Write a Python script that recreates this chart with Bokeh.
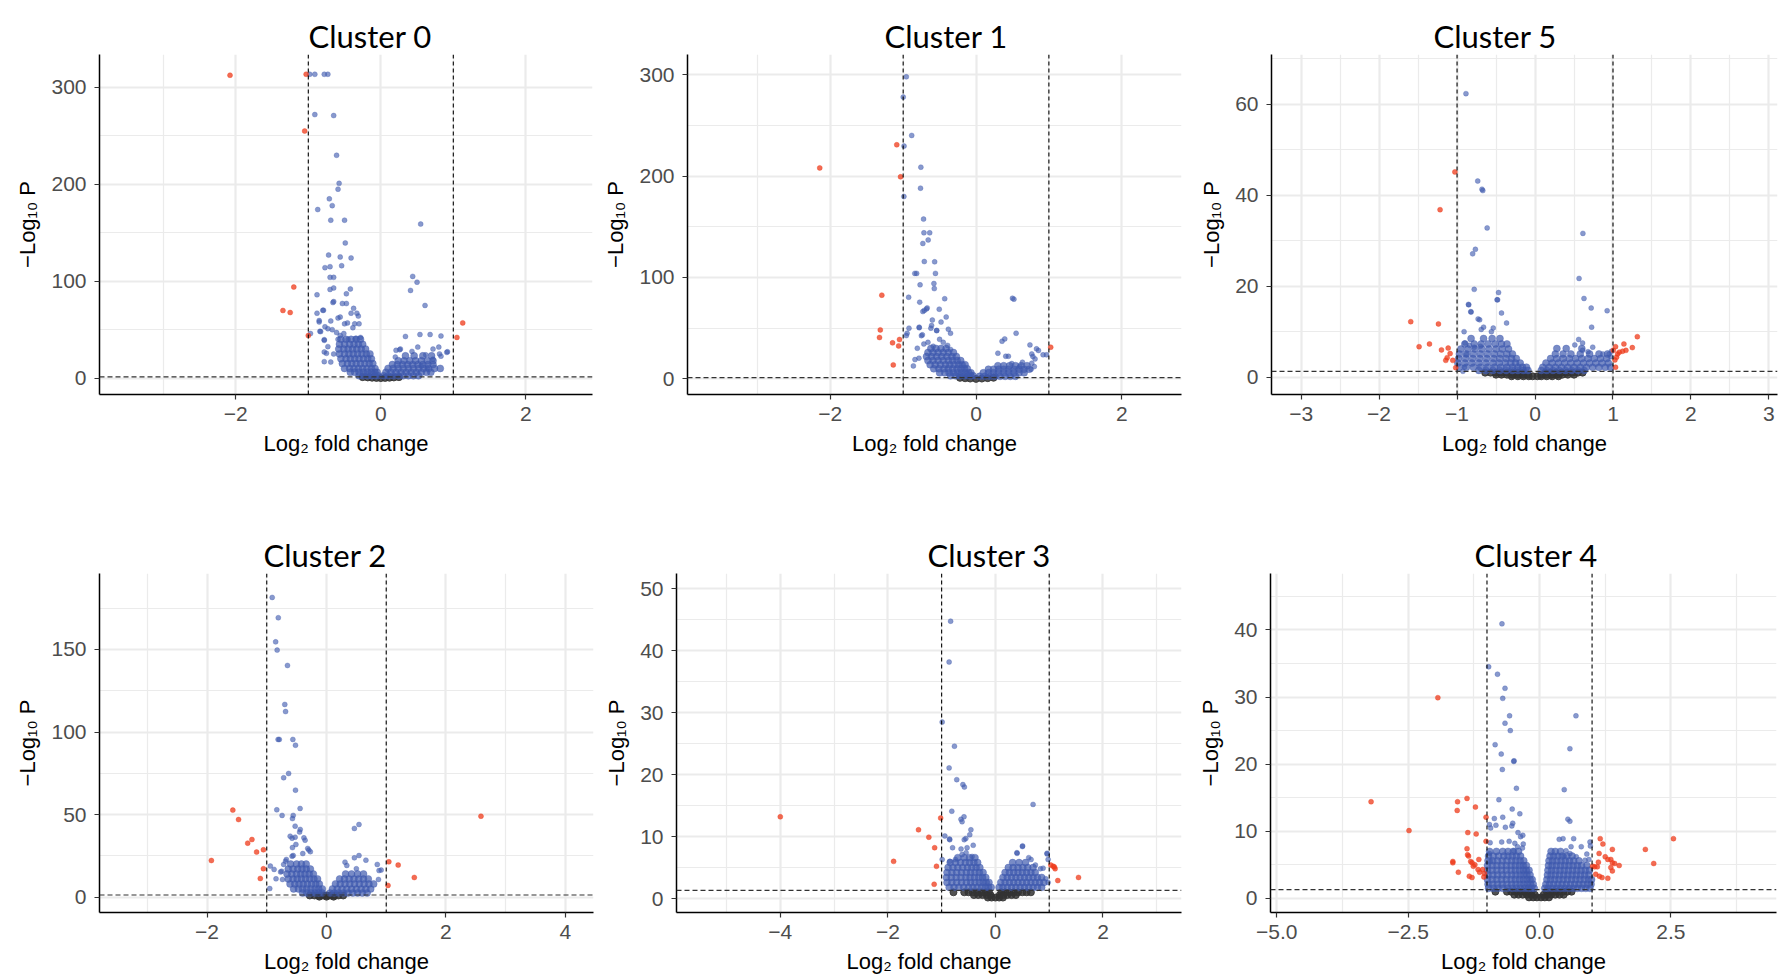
from bokeh.plotting import figure
from bokeh.layouts import column, row
from bokeh.models import Span, FixedTicker, Title, Range1d, LinearAxis
from bokeh.embed import file_html
from bokeh.resources import INLINE

# ---------------- DATA ----------------
titles = ["Cluster 0", "Cluster 1", "Cluster 5", "Cluster 2", "Cluster 3", "Cluster 4"]

# Cluster 0
c0_red = [(-2.08, 312.6), (-1.03, 313.6), (-1.05, 255), (-1.2, 94), (-1.35, 69.8), (-1.25, 67.7),
          (-1.0, 43.9), (1.13, 57), (1.05, 42)]
c0_blue = [(-0.98, 313.6), (-0.91, 313.6), (-0.78, 313.6), (-0.73, 313.6), (-0.91, 272), (-0.65, 271),
           (-0.61, 230), (-0.575, 201), (-0.59, 195), (-0.71, 185), (-0.67, 178), (-0.87, 174), (-0.69, 163),
           (-0.5, 163), (0.55, 159), (-0.49, 139.5), (-0.72, 127), (-0.56, 125), (-0.41, 124), (-0.77, 114),
           (-0.7, 115), (-0.54, 116), (-0.7, 104), (-0.65, 104), (0.44, 105), (0.5, 99), (-0.7, 91.5),
           (-0.65, 93), (-0.42, 92), (-0.88, 86), (-0.475, 87), (0.41, 90.5), (-0.66, 78), (-0.65, 79),
           (-0.53, 77), (-0.475, 77), (0.61, 75), (-0.79, 70), (-0.88, 67), (-0.375, 72), (-0.33, 67),
           (-0.31, 64), (-0.59, 62), (-0.56, 63), (-0.41, 67), (-0.85, 58), (-0.69, 59), (-0.46, 57),
           (-0.5, 56), (-0.36, 56), (-0.3, 56), (-0.385, 52), (-0.77, 53), (-0.73, 51), (-0.83, 48),
           (-0.67, 50), (-0.97, 46), (-0.61, 47), (-0.51, 46), (-0.56, 44), (0.34, 43), (0.54, 45),
           (0.68, 45), (0.83, 43.5), (-0.78, 39), (-0.59, 40), (-0.45, 40), (-0.35, 41), (-0.28, 42),
           (0.51, 32), (0.72, 30), (0.91, 26.6), (0.81, 25), (0.62, 24), (0.21, 28.7), (0.27, 30),
           (0.43, 27.6), (-0.8, 70), (-0.85, 59.4), (-0.84, 48.3), (-0.78, 39.7), (-0.73, 32.5),
           (-0.78, 27), (-0.75, 25.6), (-0.78, 17), (-0.69, 16.6), (-0.65, 24.9), (0.92, 27.2),
           (0.83, 22.7), (0.72, 19.6), (0.8, 32), (0.26, 29.3), (0.2, 21.7), (0.64, 10.3), (0.56, 12.4)]
c0_dense = [
    (40, [-0.55, -0.48, -0.41, -0.34, -0.28]),
    (35, [-0.57, -0.50, -0.43, -0.37, -0.31, -0.25]),
    (30, [-0.58, -0.51, -0.45, -0.39, -0.33, -0.27, -0.21]),
    (25, [-0.57, -0.50, -0.44, -0.38, -0.32, -0.26, -0.20, -0.15]),
    (20, [-0.55, -0.48, -0.42, -0.36, -0.30, -0.24, -0.18, -0.13]),
    (15, [-0.53, -0.46, -0.40, -0.34, -0.28, -0.22, -0.16, -0.11]),
    (10, [-0.50, -0.43, -0.37, -0.31, -0.25, -0.19, -0.13, -0.08]),
    (6, [-0.42, -0.36, -0.30, -0.24, -0.18, -0.13, -0.08, -0.05]),
    (2.5, [-0.30, -0.24, -0.18, -0.13, -0.08, -0.04]),
    (2.5, [0.04, 0.10, 0.17, 0.24, 0.31, 0.38, 0.45, 0.52]),
    (6, [0.07, 0.14, 0.21, 0.28, 0.35, 0.42, 0.49, 0.56, 0.63, 0.69]),
    (10, [0.10, 0.17, 0.24, 0.31, 0.38, 0.45, 0.52, 0.59, 0.66, 0.74, 0.82]),
    (14, [0.16, 0.23, 0.30, 0.37, 0.44, 0.51, 0.58, 0.65, 0.72]),
    (18, [0.24, 0.32, 0.40, 0.48, 0.56, 0.64, 0.72]),
    (23, [0.34, 0.46, 0.58, 0.70]),
]
c0_grey = [(-0.25, 1.0), (-0.18, 0.7), (-0.12, 0.4), (-0.06, 0.2), (0.0, 0.0), (0.06, 0.2),
           (0.12, 0.4), (0.18, 0.7), (0.25, 1.0)]

# Cluster 1
c1_red = [(-2.145, 208), (-1.088, 230.8), (-1.036, 199.2), (-1.293, 82.5), (-1.314, 48.3), (-1.325, 40.8),
          (-1.146, 35.5), (-1.05, 38.8), (-1.062, 32.5), (-1.136, 13.8), (1.025, 31.2)]
c1_blue = [(-0.957, 297.8), (-0.999, 277.8), (-0.883, 240), (-0.988, 229.5), (-0.757, 208.7), (-0.762, 188),
           (-0.99, 179.8), (-0.72, 157.5), (-0.715, 144), (-0.636, 144), (-0.657, 137), (-0.73, 133.5),
           (-0.71, 115.7), (-0.568, 115.4), (-0.84, 104), (-0.815, 104), (-0.557, 104), (-0.768, 92.7),
           (-0.578, 94), (-0.573, 89), (-0.925, 80.5), (-0.43, 79), (0.5, 79.5), (0.52, 78.6), (-0.773, 75.6),
           (-0.68, 69), (-0.71, 67.5), (-0.67, 70), (-0.505, 68.7), (-0.73, 66.4), (-0.41, 61), (-0.48, 56),
           (-0.6, 58), (-0.61, 52.6), (-0.62, 50), (-0.92, 50), (-0.78, 51), (-0.38, 49), (-0.35, 45),
           (0.55, 45), (-0.54, 47.7), (-0.736, 43.4), (-0.946, 45), (-0.957, 42.7), (0.394, 39.4),
           (0.357, 37.1), (0.74, 33.5), (0.3, 25.3), (0.83, 29.6), (0.857, 28), (0.92, 23.7), (0.967, 23.7),
           (0.78, 22), (0.444, 22.3), (0.408, 22.3), (0.49, 15.1), (0.765, 24.6), (0.81, 19.7), (0.765, 15.4),
           (0.8, 12.1), (0.756, 9.5), (0.637, 16.4), (0.6, 12.1), (-0.86, 12.8), (-0.838, 19), (-0.783, 20.4),
           (-0.806, 30.2), (-0.78, 50.4), (-0.75, 42.6), (-0.716, 34.4), (-0.588, 32.1), (-0.54, 47.6),
           (-0.45, 36), (-0.39, 33), (-0.5, 39), (-0.66, 36), (-0.35, 29)]
c1_dense = [
    (30, [-0.62, -0.55, -0.48, -0.41]),
    (26, [-0.66, -0.59, -0.52, -0.45, -0.38, -0.31]),
    (22, [-0.68, -0.61, -0.54, -0.47, -0.40, -0.33, -0.27]),
    (18, [-0.66, -0.59, -0.52, -0.45, -0.38, -0.32, -0.26, -0.21]),
    (14, [-0.63, -0.56, -0.49, -0.42, -0.36, -0.30, -0.24, -0.19, -0.15]),
    (10, [-0.58, -0.51, -0.44, -0.38, -0.32, -0.26, -0.21, -0.16, -0.12]),
    (6, [-0.50, -0.43, -0.37, -0.31, -0.25, -0.20, -0.15, -0.10, -0.07]),
    (3, [-0.35, -0.28, -0.22, -0.16, -0.11, -0.07, -0.04]),
    (2.5, [0.05, 0.12, 0.19, 0.26, 0.33, 0.40, 0.47, 0.54]),
    (6, [0.10, 0.17, 0.24, 0.31, 0.38, 0.45, 0.52, 0.59, 0.66]),
    (9.5, [0.17, 0.24, 0.31, 0.38, 0.45, 0.52, 0.59, 0.66, 0.73]),
    (13, [0.30, 0.38, 0.46, 0.54, 0.62, 0.70]),
]
c1_grey = [(-0.22, 1.0), (-0.15, 0.6), (-0.08, 0.3), (0.0, 0.0), (0.08, 0.3), (0.16, 0.7), (0.24, 1.1)]

# Cluster 5
c5_red = [(-1.028, 45.1), (-1.218, 36.8), (-1.594, 12.2), (-1.239, 11.7), (-1.487, 6.7), (-1.354, 7.3),
          (-1.2, 6.0), (-1.114, 6.4), (-1.089, 5.2), (-1.127, 4.3), (-1.145, 3.7), (-1.055, 3.7),
          (-1.017, 2.1), (1.033, 6.7), (1.14, 7.3), (1.312, 8.9), (1.248, 6.5), (1.166, 5.9), (1.123, 5.7),
          (1.081, 5.5), (1.046, 4.4), (1.025, 3.8), (1.033, 2.2), (1.004, 5.9), (1.059, 5.1)]
c5_blue = [(-0.886, 62.3), (-0.735, 43.1), (-0.68, 41.3), (-0.67, 41), (-0.614, 32.8), (-0.765, 28.1),
           (-0.8, 27.1), (-0.78, 19.3), (-0.468, 18.6), (-0.487, 17), (-0.85, 15.9), (-0.82, 14.3),
           (-0.43, 14.1), (-0.73, 12.8), (-0.71, 12.6), (-0.365, 11.9), (-0.66, 11), (-0.69, 10.5),
           (-0.536, 10.8), (-0.56, 10), (-0.91, 10), (0.614, 31.6), (0.565, 21.7), (0.628, 17.3),
           (0.72, 15.2), (0.925, 14.6), (0.726, 11), (0.56, 8.3), (0.61, 7.5), (0.51, 7.1), (0.74, 6.6),
           (0.61, 5.9), (0.68, 5.6), (0.87, 5.1), (0.95, 5.1), (0.98, 5.7), (0.97, 4.5), (-0.9, 7.5),
           (-0.84, 7), (-0.78, 6.6), (-0.7, 6.8), (-0.88, 5), (-0.925, 1.3), (-0.906, 2.2), (-0.854, 16),
           (-0.824, 14.4), (-0.48, 17)]
c5_dense = [
    (8.5, [-0.82, -0.66, -0.55, -0.45]),
    (7.3, [-0.90, -0.78, -0.69, -0.60, -0.51, -0.43, -0.36]),
    (6.2, [-0.95, -0.86, -0.77, -0.68, -0.59, -0.50, -0.42, -0.34]),
    (5.1, [-0.97, -0.88, -0.79, -0.70, -0.61, -0.52, -0.44, -0.36, -0.29]),
    (4.1, [-0.98, -0.89, -0.80, -0.71, -0.62, -0.53, -0.45, -0.37, -0.30, -0.24]),
    (3.1, [-0.99, -0.90, -0.81, -0.72, -0.63, -0.54, -0.46, -0.38, -0.31, -0.25, -0.19]),
    (2.2, [-0.97, -0.88, -0.79, -0.70, -0.61, -0.52, -0.44, -0.36, -0.29, -0.22, -0.16, -0.11]),
    (1.5, [-0.72, -0.63, -0.54, -0.45, -0.37, -0.29, -0.22, -0.15, -0.09]),
    (1.5, [0.08, 0.15, 0.23, 0.31, 0.39, 0.47, 0.55, 0.63]),
    (2.2, [0.10, 0.18, 0.26, 0.34, 0.42, 0.50, 0.58, 0.66, 0.74, 0.82, 0.90, 0.97]),
    (3.1, [0.14, 0.22, 0.30, 0.38, 0.46, 0.54, 0.62, 0.70, 0.78, 0.86, 0.94]),
    (4.1, [0.20, 0.28, 0.36, 0.44, 0.52, 0.60, 0.68, 0.76, 0.84, 0.92]),
    (5.1, [0.26, 0.36, 0.46, 0.58, 0.70, 0.82, 0.93]),
    (6.3, [0.28, 0.40, 0.60]),
]
c5_grey = [
    (1.0, [-0.64, -0.57, -0.50, -0.43, -0.36, -0.29, -0.22, -0.15, 0.13, 0.20, 0.27, 0.34, 0.41, 0.48, 0.55, 0.61]),
    (0.55, [-0.50, -0.43, -0.36, -0.29, -0.22, -0.15, -0.09, 0.08, 0.14, 0.21, 0.28, 0.35, 0.42, 0.50]),
    (0.2, [-0.30, -0.22, -0.15, -0.08, -0.03, 0.03, 0.08, 0.15, 0.22, 0.30]),
]

# Cluster 2
c2_red = [(-1.927, 22.2), (-1.568, 52.7), (-1.472, 47), (-1.319, 32.7), (-1.248, 34.9), (-1.17, 27.3),
          (-1.056, 28.7), (-1.056, 17.2), (-1.108, 11.3), (1.044, 21.4), (1.2, 19.4), (1.47, 11.9),
          (1.03, 7.1), (2.586, 49)]
c2_blue = [(-0.909, 181.5), (-0.807, 169.2), (-0.851, 154.6), (-0.826, 149.6), (-0.653, 140.3), (-0.698, 116.7),
           (-0.685, 112.4), (-0.81, 95.5), (-0.79, 95.5), (-0.563, 95.5), (-0.519, 92), (-0.634, 74.9),
           (-0.717, 72.3), (-0.519, 64.8), (-0.832, 52.9), (-0.442, 53.7), (-0.743, 49.5), (-0.557, 49.5),
           (-0.57, 47.6), (0.544, 44), (0.467, 41.6), (-0.525, 43), (-0.44, 41), (-0.45, 39.4), (-0.608, 36.9),
           (-0.525, 36.3), (-0.378, 35.9), (-0.358, 34.5), (-0.57, 30), (-0.512, 31.9), (-0.576, 35.7),
           (-0.314, 29.5), (-0.27, 27.5), (-0.397, 26.4), (-0.295, 28.5), (-0.557, 25.2), (-0.576, 24.8),
           (-0.672, 22.8), (-0.685, 21.8), (0.544, 25.2), (0.467, 23.8), (0.66, 22.4), (0.85, 19.8),
           (0.915, 16.4), (0.88, 16.1), (0.87, 10.7), (0.31, 21.2), (0.5, 17.2), (0.34, 19.2), (-0.94, 18.8),
           (-0.877, 16.8), (-0.95, 5.2), (-0.717, 19.8), (-0.749, 15.7), (-0.845, 11.1), (-0.736, 10.7),
           (-0.768, 15.3)]
c2_dense = [
    (20, [-0.60, -0.50, -0.42, -0.34]),
    (17, [-0.64, -0.56, -0.48, -0.41, -0.34, -0.27]),
    (14, [-0.66, -0.58, -0.50, -0.43, -0.36, -0.29, -0.22]),
    (11, [-0.64, -0.56, -0.49, -0.42, -0.35, -0.28, -0.21, -0.15]),
    (8, [-0.61, -0.53, -0.46, -0.39, -0.32, -0.25, -0.18, -0.12]),
    (5, [-0.55, -0.47, -0.40, -0.33, -0.26, -0.19, -0.13, -0.07]),
    (2.5, [-0.40, -0.33, -0.26, -0.19, -0.13, -0.07]),
    (2.5, [0.06, 0.13, 0.20, 0.28, 0.36, 0.44, 0.52, 0.60, 0.68]),
    (5, [0.10, 0.18, 0.26, 0.34, 0.42, 0.50, 0.58, 0.66, 0.74]),
    (8, [0.15, 0.23, 0.31, 0.39, 0.47, 0.55, 0.63, 0.71, 0.79]),
    (11, [0.22, 0.30, 0.38, 0.46, 0.54, 0.62, 0.70]),
    (14, [0.32, 0.42, 0.52, 0.62]),
]
c2_grey = [(-0.28, 1.0), (-0.2, 1.0), (-0.13, 1.0), (-0.06, 1.0), (0.0, 1.0), (0.06, 1.0), (0.13, 1.0),
           (0.2, 1.0), (0.28, 1.0), (-0.12, 0.3), (0.0, 0.3), (0.12, 0.3)]

# Cluster 3
c3_red = [(-4.0, 13.2), (-1.893, 6.0), (-1.43, 11.1), (-1.238, 9.9), (-1.13, 8.2), (-1.018, 13), (-1.096, 5.2),
          (-1.139, 2.3), (1.03, 5.4), (1.075, 5.2), (1.11, 4.8), (1.096, 5.1), (1.16, 2.9), (1.545, 3.4)]
c3_blue = [(-0.833, 44.8), (-0.861, 38.2), (-0.99, 28.5), (-0.762, 24.6), (-0.861, 21.1), (-0.719, 19.2),
           (-0.605, 18.4), (-0.577, 18), (0.7, 15.2), (-0.811, 14.1), (-0.584, 13.2), (-0.64, 12.8),
           (-0.62, 12.4), (-0.456, 11.1), (-0.477, 10.3), (-0.94, 10.1), (-0.854, 9.6), (-0.58, 9.5),
           (-0.55, 9.7), (-0.413, 8.6), (-0.797, 8.2), (0.505, 8.5), (0.4, 7.4), (0.96, 7.3), (0.98, 6.3),
           (-0.99, 6.3), (-0.849, 9.5), (-0.639, 8.0), (-0.527, 8.2), (-0.62, 7.1), (-0.545, 7.4),
           (-0.433, 6.8), (-0.744, 6.3), (-0.849, 6.0), (0.403, 7.3), (0.502, 8.4), (0.62, 6.6),
           (0.663, 6.3), (0.744, 5.4), (0.837, 4.8), (0.887, 4.9), (0.961, 7.2), (0.936, 3.2), (0.98, 2.6)]
c3_dense = [
    (6.6, [-0.70, -0.58, -0.48, -0.38]),
    (5.8, [-0.84, -0.74, -0.65, -0.56, -0.48, -0.40, -0.33]),
    (5.0, [-0.88, -0.79, -0.70, -0.61, -0.52, -0.44, -0.36, -0.29]),
    (4.2, [-0.90, -0.81, -0.72, -0.63, -0.54, -0.46, -0.38, -0.30, -0.23]),
    (3.4, [-0.91, -0.82, -0.73, -0.64, -0.55, -0.47, -0.39, -0.31, -0.24, -0.18]),
    (2.6, [-0.90, -0.81, -0.72, -0.63, -0.54, -0.46, -0.38, -0.30, -0.23, -0.17, -0.12]),
    (1.8, [-0.86, -0.77, -0.68, -0.59, -0.50, -0.42, -0.34, -0.26, -0.19, -0.13, -0.08]),
    (1.8, [0.07, 0.14, 0.22, 0.30, 0.38, 0.46, 0.54, 0.62, 0.70, 0.78, 0.86]),
    (2.6, [0.10, 0.18, 0.26, 0.34, 0.42, 0.50, 0.58, 0.66, 0.74, 0.82, 0.90]),
    (3.4, [0.14, 0.22, 0.30, 0.38, 0.46, 0.54, 0.62, 0.70, 0.78, 0.86]),
    (4.2, [0.18, 0.26, 0.34, 0.42, 0.50, 0.58, 0.66, 0.74]),
    (5.0, [0.24, 0.33, 0.42, 0.51, 0.60, 0.70]),
    (5.8, [0.32, 0.44, 0.56]),
]
c3_grey = [
    (1.0, [-0.78, -0.58, -0.50, -0.42, -0.34, -0.26, -0.18, -0.12, 0.11, 0.18, 0.26, 0.34, 0.42, 0.50, 0.58, 0.66]),
    (0.55, [-0.40, -0.32, -0.24, -0.16, -0.09, 0.08, 0.15, 0.22, 0.30, 0.38]),
    (0.15, [-0.14, -0.07, 0.0, 0.07, 0.14]),
]

# Cluster 4
c4_red = [(-3.206, 14.4), (-2.484, 10.1), (-1.935, 29.9), (-1.56, 14.4), (-1.567, 13.1), (-1.38, 14.9),
          (-1.22, 13.6), (-1.365, 9.8), (-1.206, 9.6), (-1.018, 12.1), (-1.018, 8.5), (-1.38, 7.4),
          (-1.37, 6.5), (-1.35, 6.3), (-1.65, 5.5), (-1.65, 5.3), (-1.31, 5.5), (-1.285, 5.3), (-1.26, 4.8),
          (-1.23, 5.0), (-1.155, 5.8), (-1.545, 3.9), (-1.336, 3.3), (-1.285, 3.1), (-1.17, 4.3),
          (-1.14, 3.9), (-1.083, 4.3), (-1.047, 3.7), (-1.06, 3.2), (1.155, 8.9), (1.206, 8.1), (1.134, 6.7),
          (1.12, 5.4), (1.386, 7.3), (1.25, 6.2), (1.3, 5.8), (1.357, 5.8), (1.386, 5.3), (1.43, 5.2),
          (1.516, 4.9), (1.01, 4.8), (1.05, 4.7), (1.1, 4.7), (1.07, 3.6), (1.14, 3.3), (1.19, 3.1),
          (1.3, 3.0), (1.357, 4.6), (1.386, 4.1), (2.014, 7.3), (2.173, 5.2), (2.549, 8.9)]
c4_blue = [(-0.715, 40.9), (-0.968, 34.5), (-0.8, 33.4), (-0.657, 31.3), (-0.7, 29.8), (-0.57, 27.2),
           (0.693, 27.2), (-0.657, 26.1), (-0.556, 25), (-0.845, 22.9), (-0.729, 21.5), (-0.49, 20.4),
           (-0.485, 20.5), (0.578, 22.3), (-0.708, 19.2), (-0.44, 16.4), (0.47, 16.2), (-0.773, 14.7),
           (-0.52, 13.3), (-0.375, 12.6), (-0.7, 12.1), (-0.86, 11.9), (-0.953, 11), (-0.93, 10.5),
           (-0.83, 10.9), (-0.65, 10.6), (0.54, 11.8), (0.578, 11.5), (-0.51, 11.2), (-0.527, 10.8),
           (-0.41, 9.8), (-0.318, 9.4), (-0.36, 9.2), (-0.72, 8.4), (-0.578, 8.5), (-0.47, 8.2), (-0.31, 8.1),
           (-0.42, 7.7), (-0.49, 7.1), (-0.325, 7.5), (-0.94, 8.3), (-0.953, 6.7), (-0.93, 5.5),
           (0.375, 8.8), (0.448, 8.9), (0.65, 8.9), (0.6, 7.7), (0.794, 7.7), (0.96, 8.4), (0.968, 7.8),
           (0.9, 6.6), (0.505, 7.1), (0.578, 6.7), (0.47, 6.3), (0.7, 6.2), (0.866, 5.7), (0.94, 5.8)]
c4_dense = [
    (7.0, [-0.95, -0.82, -0.70, -0.60, -0.50, -0.40]),
    (6.3, [-0.97, -0.88, -0.78, -0.68, -0.60, -0.52, -0.44, -0.36]),
    (5.6, [-0.98, -0.89, -0.80, -0.71, -0.62, -0.53, -0.45, -0.37, -0.30]),
    (4.9, [-0.99, -0.90, -0.81, -0.72, -0.63, -0.54, -0.46, -0.38, -0.31, -0.25]),
    (4.2, [-0.99, -0.90, -0.81, -0.72, -0.63, -0.54, -0.46, -0.38, -0.31, -0.25, -0.20]),
    (3.5, [-0.98, -0.89, -0.80, -0.71, -0.62, -0.53, -0.45, -0.37, -0.30, -0.24, -0.18]),
    (2.8, [-0.99, -0.90, -0.81, -0.72, -0.63, -0.54, -0.46, -0.38, -0.31, -0.24, -0.18, -0.14]),
    (2.1, [-0.98, -0.89, -0.80, -0.71, -0.62, -0.53, -0.45, -0.37, -0.30, -0.23, -0.17, -0.12]),
    (1.5, [-0.97, -0.88, -0.79, -0.70, -0.61, -0.52, -0.44, -0.36, -0.28, -0.21, -0.15, -0.10]),
    (1.5, [0.10, 0.16, 0.24, 0.32, 0.40, 0.48, 0.56, 0.64, 0.72, 0.80, 0.88, 0.96]),
    (2.1, [0.12, 0.19, 0.27, 0.35, 0.43, 0.51, 0.59, 0.67, 0.75, 0.83, 0.91, 0.98]),
    (2.8, [0.14, 0.21, 0.29, 0.37, 0.45, 0.53, 0.61, 0.69, 0.77, 0.85, 0.93, 0.99]),
    (3.5, [0.15, 0.22, 0.30, 0.38, 0.46, 0.54, 0.62, 0.70, 0.78, 0.86, 0.94]),
    (4.2, [0.16, 0.23, 0.31, 0.39, 0.47, 0.55, 0.63, 0.71, 0.79, 0.87, 0.95]),
    (4.9, [0.17, 0.24, 0.32, 0.40, 0.48, 0.56, 0.64, 0.72, 0.80, 0.90]),
    (5.6, [0.18, 0.25, 0.33, 0.41, 0.49, 0.57, 0.65, 0.75]),
    (6.3, [0.20, 0.27, 0.35, 0.43, 0.52, 0.62]),
    (7.0, [0.22, 0.30, 0.40]),
]
c4_grey = [
    (1.0, [-0.84, -0.62, -0.54, -0.46, -0.38, -0.30, -0.22, -0.15, 0.14, 0.21, 0.29, 0.37, 0.45, 0.53, 0.61]),
    (0.55, [-0.48, -0.40, -0.32, -0.24, -0.16, -0.09, 0.08, 0.15, 0.22, 0.30, 0.38, 0.46]),
    (0.15, [-0.20, -0.12, -0.05, 0.03, 0.10, 0.18]),
]

# axis ticks (values and labels)
xt_a = [-2, 0, 2]; xl_a = ["\u22122", "0", "2"]
xt_c = [-3, -2, -1, 0, 1, 2, 3]; xl_c = ["\u22123", "\u22122", "\u22121", "0", "1", "2", "3"]
xt_d = [-2, 0, 2, 4]; xl_d = ["\u22122", "0", "2", "4"]
xt_e = [-4, -2, 0, 2]; xl_e = ["\u22124", "\u22122", "0", "2"]
xt_f = [-5.0, -2.5, 0.0, 2.5]; xl_f = ["\u22125.0", "\u22122.5", "0.0", "2.5"]
yt_a = [0, 100, 200, 300]
yt_c = [0, 20, 40, 60]
yt_d = [0, 50, 100, 150]
yt_e = [0, 10, 20, 30, 40, 50]
yt_f = [0, 10, 20, 30, 40]


def expand(rows):
    out = []
    for yv, xs in rows:
        for xv in xs:
            out.append((xv, yv))
    return out


# ---------------- LAYOUT / STYLE ----------------
BLUE = "#3F5AAE"
RED = "#EE3B1B"
GREY = "#333333"

# tsp: height (px) of an empty, invisible spacer axis placed between the frame and the title
panels = [
    dict(title=titles[0], red=c0_red, blue=c0_blue, dense=expand(c0_dense), grey=c0_grey,
         xr=(-3.88, 2.92), yr=(-16.9, 334), xt=xt_a, xl=xl_a, xm=[-3, -1, 1, 3], yt=yt_a, ym=[50, 150, 250],
         fw=493, fh=340, bl=99, br=8, bt=54, bb=76, toff=209, tsp=13),
    dict(title=titles[1], red=c1_red, blue=c1_blue, dense=expand(c1_dense), grey=c1_grey,
         xr=(-3.96, 2.82), yr=(-15.4, 319.8), xt=xt_a, xl=xl_a, xm=[-3, -1, 1, 3], yt=yt_a, ym=[50, 150, 250],
         fw=494, fh=340, bl=86, br=10, bt=54, bb=76, toff=197, tsp=13),
    dict(title=titles[2], red=c5_red, blue=c5_blue, dense=expand(c5_dense), grey=expand(c5_grey),
         xr=(-3.38, 3.11), yr=(-3.8, 70.9), xt=xt_c, xl=xl_c, xm=[-2.5, -1.5, -0.5, 0.5, 1.5, 2.5],
         yt=yt_c, ym=[10, 30, 50, 70],
         fw=506, fh=340, bl=80, br=7, bt=54, bb=76, toff=162, tsp=13),
    dict(title=titles[3], red=c2_red, blue=c2_blue, dense=expand(c2_dense), grey=c2_grey,
         xr=(-3.80, 4.47), yr=(-9.3, 196), xt=xt_d, xl=xl_d, xm=[-3, -1, 1, 3], yt=yt_d, ym=[25, 75, 125, 175],
         fw=494, fh=339, bl=99, br=7, bt=103, bb=67, toff=164, tsp=21),
    dict(title=titles[4], red=c3_red, blue=c3_blue, dense=expand(c3_dense), grey=expand(c3_grey),
         xr=(-5.93, 3.46), yr=(-2.26, 52.5), xt=xt_e, xl=xl_e, xm=[-5, -3, -1, 1, 3], yt=yt_e,
         ym=[5, 15, 25, 35, 45],
         fw=505, fh=339, bl=76, br=9, bt=103, bb=67, toff=251, tsp=21),
    dict(title=titles[5], red=c4_red, blue=c4_blue, dense=expand(c4_dense), grey=expand(c4_grey),
         xr=(-5.12, 4.51), yr=(-2.1, 48.4), xt=xt_f, xl=xl_f, xm=[-3.75, -1.25, 1.25, 3.75], yt=yt_f,
         ym=[5, 15, 25, 35, 45],
         fw=506, fh=339, bl=80, br=7, bt=103, bb=67, toff=204, tsp=21),
]


def xy(pts):
    return [v[0] for v in pts], [v[1] for v in pts]


def make(cfg):
    x0, x1 = cfg["xr"]
    y0, y1 = cfg["yr"]
    p = figure(frame_width=cfg["fw"], frame_height=cfg["fh"],
               x_range=Range1d(x0, x1), y_range=Range1d(y0, y1),
               output_backend="svg", toolbar_location=None,
               min_border_left=cfg["bl"], min_border_right=cfg["br"],
               min_border_top=cfg["bt"], min_border_bottom=cfg["bb"],
               background_fill_color="white", border_fill_color="white",
               outline_line_color=None)
    main_x = p.below[0]
    main_y = p.left[0]

    # invisible spacer axis (no ticks, no line, no text) right above the frame
    spacer = LinearAxis(ticker=FixedTicker(ticks=[]), axis_line_color=None, major_tick_line_color=None,
                        minor_tick_line_color=None, major_tick_out=cfg["tsp"], major_tick_in=0,
                        minor_tick_out=0, minor_tick_in=0, major_label_standoff=0, axis_label_standoff=0)
    p.add_layout(spacer, "above")
    p.add_layout(Title(text=cfg["title"], align="left", offset=cfg["toff"], standoff=0,
                       vertical_align="bottom", text_font="Lato", text_font_size="31px",
                       text_font_style="normal", text_color="black"), "above")

    main_x.ticker = FixedTicker(ticks=cfg["xt"], minor_ticks=cfg["xm"])
    main_y.ticker = FixedTicker(ticks=cfg["yt"], minor_ticks=cfg["ym"])
    main_x.major_label_overrides = {t: l for t, l in zip(cfg["xt"], cfg["xl"])}
    main_y.major_label_overrides = {t: str(t) for t in cfg["yt"]}

    for g in (p.xgrid, p.ygrid):
        g.grid_line_color = "#ebebeb"
        g.grid_line_width = 2.2
        g.minor_grid_line_color = "#ebebeb"
        g.minor_grid_line_width = 1.2

    for ax in (main_x, main_y):
        ax.axis_line_color = "black"
        ax.axis_line_width = 1.5
        ax.major_tick_line_color = "#333333"
        ax.major_tick_line_width = 1.2
        ax.major_tick_out = 5
        ax.major_tick_in = 0
        ax.minor_tick_out = 0
        ax.minor_tick_in = 0
        ax.major_label_text_font = "Liberation Sans"
        ax.major_label_text_font_size = "21px"
        ax.major_label_text_color = "#4d4d4d"
        ax.axis_label_text_font = "Liberation Sans"
        ax.axis_label_text_font_size = "22px"
        ax.axis_label_text_font_style = "normal"
        ax.axis_label_text_color = "black"
    main_x.major_label_standoff = 7
    main_y.major_label_standoff = 8
    main_x.axis_label = "Log\u2082 fold change"
    main_y.axis_label = "\u2212Log\u2081\u2080 P"
    main_x.axis_label_standoff = 7
    main_y.axis_label_standoff = 8

    gx, gy = xy(cfg["grey"])
    dx, dy = xy(cfg["dense"])
    bx, by = xy(cfg["blue"])
    rx, ry = xy(cfg["red"])
    p.scatter(gx, gy, size=7, marker="circle", fill_color=GREY, line_color=GREY, fill_alpha=0.85, line_alpha=0.85)
    p.scatter(dx, dy, size=7, marker="circle", fill_color=BLUE, line_color=BLUE, fill_alpha=0.7, line_alpha=0.7,
              line_width=0.5)
    p.scatter(bx, by, size=5, marker="circle", fill_color=BLUE, line_color=BLUE, fill_alpha=0.62, line_alpha=0.62,
              line_width=0.5)
    p.scatter(rx, ry, size=5, marker="circle", fill_color=RED, line_color=RED, fill_alpha=0.75, line_alpha=0.75,
              line_width=0.5)

    for xv in (-1, 1):
        p.add_layout(Span(location=xv, dimension="height", line_color="black", line_width=1.1, line_dash="4 3"))
    p.add_layout(Span(location=1.301, dimension="width", line_color="#333333", line_width=1.2, line_dash="5 3"))
    return p


figs = [make(c) for c in panels]
layout = column(row(figs[0], figs[1], figs[2]), row(figs[3], figs[4], figs[5]))
open("out.html", "w").write(file_html(layout, INLINE))
